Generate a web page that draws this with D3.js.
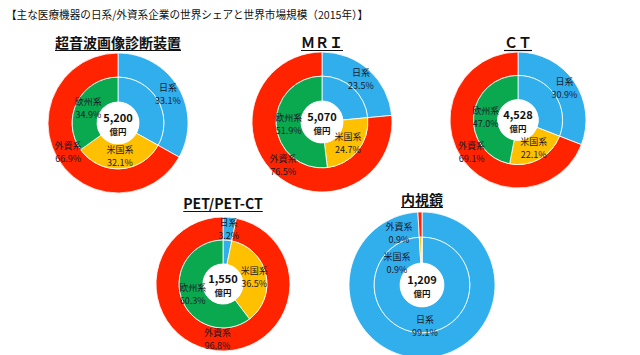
<!DOCTYPE html>
<html><head><meta charset="utf-8">
<script src="https://cdn.jsdelivr.net/npm/d3@7"></script>
<style>
html,body{margin:0;padding:0;background:#fff;}
svg{display:block;font-family:"Noto Sans CJK JP","Noto Sans",sans-serif;}
</style></head>
<body>
<svg id="c" width="640" height="355"></svg>
<script>
// ---- data ----
const chartTitles = ["超音波画像診断装置", "ＭＲＩ", "ＣＴ", "PET/PET-CT", "内視鏡"];
const marketSize = ["5,200", "5,070", "4,528", "1,550", "1,209"];
const japanShare = [33.1, 23.5, 30.9, 3.2, 99.1];
const foreignShare = [66.9, 76.5, 69.1, 96.8, 0.9];
const usShare = [32.1, 24.7, 22.1, 36.5, 0.9];
const euShare = [34.9, 51.9, 47.0, 60.3, 0];
const outerNames = ["日系", "外資系"];
const innerNames = ["日系", "米国系", "欧州系"];
const unitLabel = "億円";
const mainTitle = "【主な医療機器の日系/外資系企業の世界シェアと世界市場規模（2015年）】";

// ---- layout (positions / styles) ----
const layout = [
  {cx: 118, cy: 123, r: 70, ty: 48},
  {cx: 322, cy: 122, r: 70, ty: 48},
  {cx: 518, cy: 120, r: 68, ty: 48},
  {cx: 223, cy: 284, r: 67, ty: 209},
  {cx: 422, cy: 285, r: 73, ty: 205}
];
// label nudges for the tiny slices of chart 4 (内視鏡)
const labelOverrides = {4: {"outer-0": [3, 41], "outer-1": [-23, -52], "inner-1": [-25, -22]}};
const colors = {"日系": "#31AEEC", "外資系": "#FF2300", "米国系": "#FFC000", "欧州系": "#0AA84F"};

const svg = d3.select("#c");
svg.append("text").attr("x", 6).attr("y", 19)
  .attr("font-size", 11).attr("fill", "#111")
  .attr("textLength", 362).attr("lengthAdjust", "spacingAndGlyphs")
  .text(mainTitle);

const pie = d3.pie().sort(null).value(d => d.v);

chartTitles.forEach((title, i) => {
  const L = layout[i];
  const g = svg.append("g").attr("transform", `translate(${L.cx},${L.cy})`);
  const rHole = L.r * 0.30, rMid = L.r * 0.655, rOut = L.r;

  const outer = outerNames.map((n, k) => ({n, v: [japanShare, foreignShare][k][i], ring: "outer", k}));
  const inner = innerNames.map((n, k) => ({n, v: [japanShare, usShare, euShare][k][i], ring: "inner", k}));

  const arcOut = d3.arc().innerRadius(rMid).outerRadius(rOut);
  const arcIn = d3.arc().innerRadius(rHole).outerRadius(rMid);

  [[outer, arcOut], [inner, arcIn]].forEach(([data, arc]) => {
    const arcs = pie(data);
    g.selectAll(null).data(arcs).enter().append("path")
      .attr("d", arc)
      .attr("fill", d => colors[d.data.n])
      .attr("stroke", "#fff").attr("stroke-width", 0.8);
  });

  // hole
  g.append("circle").attr("r", rHole).attr("fill", "#fff");
  g.append("text").attr("text-anchor", "middle").attr("y", -1)
    .attr("font-size", 11).attr("font-weight", "bold").attr("fill", "#111")
    .text(marketSize[i]);
  g.append("text").attr("text-anchor", "middle").attr("y", 12)
    .attr("font-size", 8.5).attr("font-weight", "bold").attr("fill", "#111")
    .text(unitLabel);

  // labels
  const labelArcOut = d3.arc().innerRadius(rMid).outerRadius(rOut);
  const labelArcIn = d3.arc().innerRadius(rHole).outerRadius(rMid);
  const items = [];
  pie(outer).forEach(a => items.push([a, labelArcOut]));
  pie(inner).forEach(a => { if (a.data.k !== 0) items.push([a, labelArcIn]); });
  items.forEach(([a, arc]) => {
    if (a.data.v <= 0) return;
    let [x, y] = arc.centroid(a);
    const ov = labelOverrides[i] && labelOverrides[i][a.data.ring + "-" + a.data.k];
    if (ov) { x = ov[0]; y = ov[1]; }
    const t = g.append("text").attr("text-anchor", "middle")
      .attr("font-size", 9).attr("fill", "#1a1a2a");
    t.append("tspan").attr("x", x).attr("y", y - 3).text(a.data.n);
    t.append("tspan").attr("x", x).attr("y", y + 10).text(a.data.v.toFixed(1) + "%");
  });

  // title with underline
  const tt = svg.append("text").attr("x", L.cx).attr("y", L.ty)
    .attr("text-anchor", "middle").attr("font-size", 14).attr("font-weight", "bold")
    .attr("fill", "#111").text(title);
  const w = tt.node().getComputedTextLength();
  svg.append("line").attr("x1", L.cx - w / 2).attr("x2", L.cx + w / 2)
    .attr("y1", L.ty + 2.5).attr("y2", L.ty + 2.5)
    .attr("stroke", "#111").attr("stroke-width", 1.2);
});
</script>
</body></html>
